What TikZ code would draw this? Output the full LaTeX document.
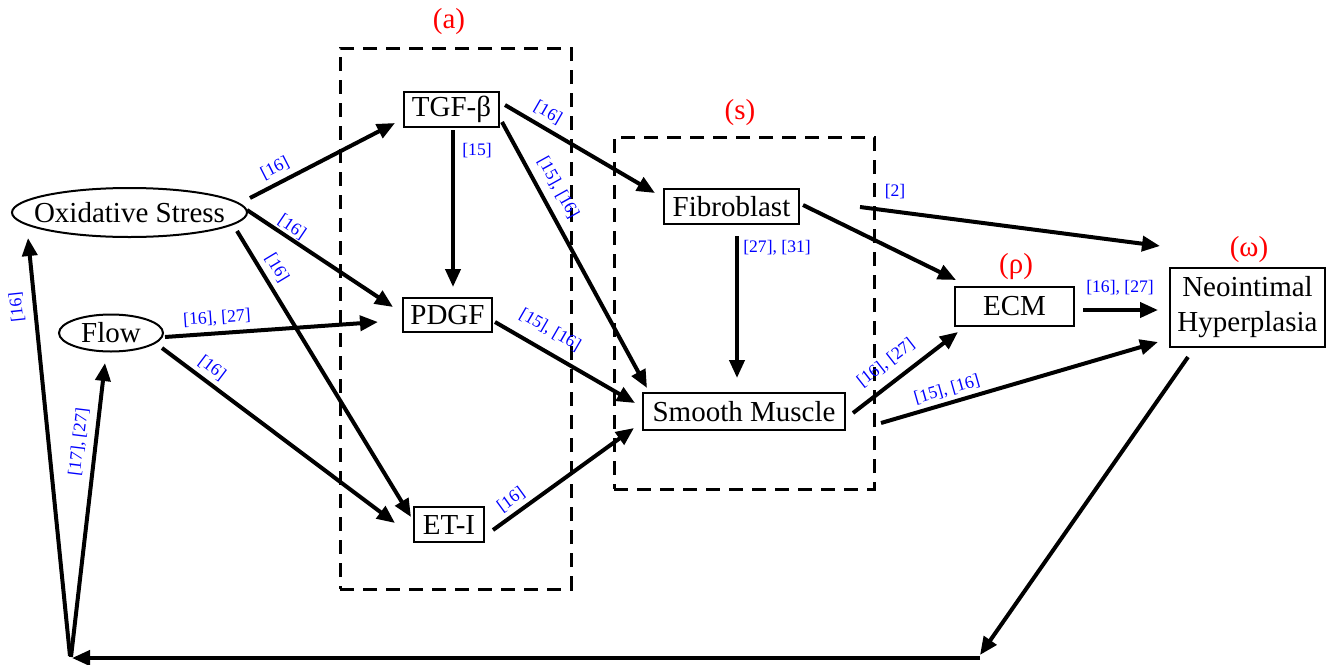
\documentclass[tikz,border=0pt]{standalone}
\usepackage{fontspec}
\setmainfont{Liberation Serif}
\usetikzlibrary{arrows.meta,shapes.geometric}
\newcommand\mainsz{\fontsize{14.5}{17.5}\selectfont}
\newcommand\refsz{\fontsize{8.8}{10}\selectfont}
\definecolor{refblue}{RGB}{0,0,255}
\definecolor{grpred}{RGB}{255,0,0}
\begin{document}
\begin{tikzpicture}[x=0.5pt,y=-0.5pt,
  box/.style={draw, line width=0.7pt, inner sep=0pt, font=\mainsz},
  oval/.style={draw, ellipse, line width=1pt, inner sep=0pt},
  ovaltext/.style={font=\mainsz, inner sep=0pt},
  arr/.style={line width=2pt, -{Triangle[length=9pt,width=7.5pt]}},
  ref/.style={text=refblue, font=\refsz, inner sep=0pt},
  grp/.style={text=grpred, font=\mainsz, inner sep=0pt},
  dashbox/.style={draw, line width=1.5pt, dash pattern=on 7pt off 4.5pt, inner sep=0pt}]
\useasboundingbox (0,0) rectangle (1326,664);

% group boxes
\node[dashbox, minimum width=115.5pt, minimum height=270.5pt] (grpa) at (455.5,318.5) {};
\node[dashbox, minimum width=130pt, minimum height=176pt] (grps) at (744,313) {};
\node[grp] (la) at (449,22) {(a)};
\node[grp] (ls) at (740,113) {(s)};
\node[grp] (lr) at (1016,267) {(ρ)};
\node[grp] (lw) at (1249,250) {(ω)};

% nodes
\node[oval, minimum width=117.5pt, minimum height=24.5pt, label={[ovaltext]center:Oxidative Stress}] (os) at (129.5,212.5) {};
\node[oval, minimum width=52pt, minimum height=18.5pt, label={[ovaltext]center:Flow}] (flow) at (111,333) {};
\node[box, minimum width=47.5pt, minimum height=17.5pt] (tgf) at (451.5,109.5) {TGF-β};
\node[box, minimum width=44.5pt, minimum height=17pt] (pdgf) at (447.5,315) {PDGF};
\node[box, minimum width=35pt, minimum height=17.5pt] (eti) at (449,524.5) {ET-I};
\node[box, minimum width=67.5pt, minimum height=17.5pt] (fib) at (731.5,206.5) {Fibroblast};
\node[box, minimum width=101pt, minimum height=18.5pt] (sm) at (744,411.5) {Smooth Muscle};
\node[box, minimum width=59.5pt, minimum height=19.5pt] (ecm) at (1014.5,306.5) {ECM};
\node[box, minimum width=77.5pt, minimum height=39.5pt, align=center] (nh) at (1247.5,307.5) {Neointimal\\Hyperplasia};

% connector end points
\coordinate (osA) at (250,198);   \coordinate (tgfA) at (395,123);
\coordinate (osB) at (247,210);   \coordinate (pdgfA) at (393,307);
\coordinate (osC) at (237,231);   \coordinate (etiA) at (411,517);
\coordinate (flA) at (165,337);   \coordinate (pdgfB) at (378,322);
\coordinate (flB) at (162,348);   \coordinate (etiB) at (395,523);
\coordinate (tgfB) at (453,130);  \coordinate (pdgfC) at (453,287);
\coordinate (tgfC) at (505,105);  \coordinate (fibA) at (655,193);
\coordinate (tgfD) at (502,122);  \coordinate (smA) at (647,388);
\coordinate (pdgfD) at (495,322); \coordinate (smB) at (635,403);
\coordinate (etiC) at (493,530);  \coordinate (smC) at (634,428);
\coordinate (fibB) at (737,236);  \coordinate (smD) at (737,378);
\coordinate (fibC) at (803,205);  \coordinate (ecmA) at (956,280);
\coordinate (sOutA) at (860,207); \coordinate (nhA) at (1160,246);
\coordinate (smE) at (853,413);   \coordinate (ecmB) at (958,332);
\coordinate (sOutB) at (881,423); \coordinate (nhB) at (1158,342);
\coordinate (ecmC) at (1083,310); \coordinate (nhC) at (1158,310);
\coordinate (nhD) at (1188,357);  \coordinate (botR) at (980,655);
\coordinate (botR2) at (980,658); \coordinate (botL) at (72,658);
\coordinate (corner) at (70,656); \coordinate (osD) at (28,238);
\coordinate (corner2) at (71,657); \coordinate (flC) at (105,363);

% connectors
\draw[arr] (osA) -- (tgfA);
\draw[arr] (osB) -- (pdgfA);
\draw[arr] (osC) -- (etiA);
\draw[arr] (flA) -- (pdgfB);
\draw[arr] (flB) -- (etiB);
\draw[arr] (tgfB) -- (pdgfC);
\draw[arr] (tgfC) -- (fibA);
\draw[arr] (tgfD) -- (smA);
\draw[arr] (pdgfD) -- (smB);
\draw[arr] (etiC) -- (smC);
\draw[arr] (fibB) -- (smD);
\draw[arr] (fibC) -- (ecmA);
\draw[arr] (sOutA) -- (nhA);
\draw[arr] (smE) -- (ecmB);
\draw[arr] (sOutB) -- (nhB);
\draw[arr] (ecmC) -- (nhC);
\draw[arr] (nhD) -- (botR);
\draw[arr] (botR2) -- (botL);
\draw[arr] (corner) -- (osD);
\draw[arr] (corner2) -- (flC);

% reference labels
\node[ref, rotate=27] (r1) at (275,168) {[16]};
\node[ref, rotate=-34] (r2) at (292,227) {[16]};
\node[ref, rotate=-59] (r3) at (277,268) {[16]};
\node[ref, rotate=4] (r4) at (217,318) {[16], [27]};
\node[ref, rotate=-37] (r5) at (212,368) {[16]};
\node[ref] (r6) at (477,151) {[15]};
\node[ref, rotate=-30] (r7) at (548,113) {[16]};
\node[ref, rotate=-61] (r8) at (558,188) {[15], [16]};
\node[ref, rotate=-30] (r9) at (550,330) {[15], [16]};
\node[ref, rotate=36] (r10) at (511,500) {[16]};
\node[ref] (r11) at (777,248) {[27], [31]};
\node[ref] (r12) at (895,192) {[2]};
\node[ref, rotate=38] (r13) at (886,363) {[16], [27]};
\node[ref, rotate=16] (r14) at (947,390) {[15], [16]};
\node[ref] (r15) at (1120,288) {[16], [27]};
\node[ref, rotate=96] (r16) at (17,307) {[16]};
\node[ref, rotate=83] (r17) at (79,442) {[17], [27]};
\end{tikzpicture}
\end{document}
